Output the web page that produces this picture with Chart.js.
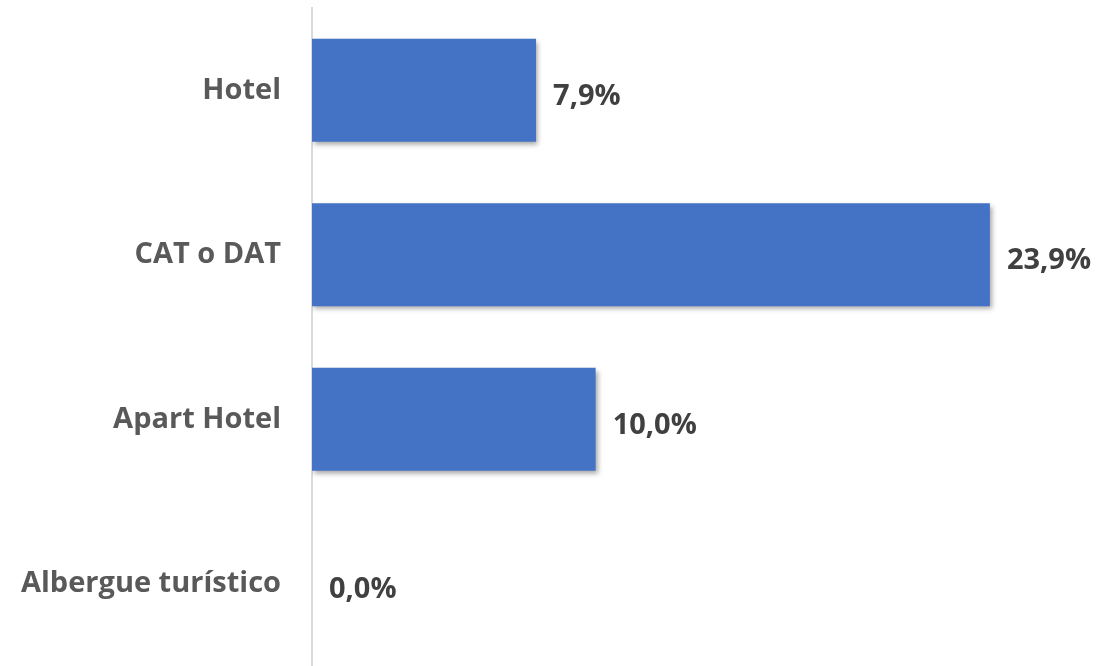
<!DOCTYPE html>
<html>
<head>
<meta charset="utf-8">
<script src="https://cdn.jsdelivr.net/npm/chart.js@4/dist/chart.umd.min.js"></script>
<style>
  html, body { margin: 0; padding: 0; background: #fff; }
  #wrap { width: 1099px; height: 666px; }
</style>
</head>
<body>
<div id="wrap"><canvas id="chart"></canvas></div>
<script>
const categories = ['Hotel', 'CAT o DAT', 'Apart Hotel', 'Albergue turístico'];
const shares = [7.9, 23.9, 10.0, 0.0];

const fmt = v => v.toFixed(1).replace('.', ',') + '%';

// bar shadow like the office original
const shadow = {
    id: 'shadow',
    beforeDatasetsDraw(chart) {
        const ctx = chart.ctx;
        ctx.save();
        ctx.shadowColor = 'rgba(0,0,0,0.35)';
        ctx.shadowBlur = 5;
        ctx.shadowOffsetX = 2;
        ctx.shadowOffsetY = 3;
    },
    afterDatasetsDraw(chart) {
        chart.ctx.restore();
    }
};

const valueLabels = {
    id: 'valueLabels',
    afterDatasetsDraw(chart) {
        const ctx = chart.ctx;
        const meta = chart.getDatasetMeta(0);
        ctx.save();
        ctx.font = 'bold 29px "Open Sans"';
        ctx.fillStyle = '#404040';
        ctx.textAlign = 'left';
        ctx.textBaseline = 'middle';
        meta.data.forEach((bar, i) => {
            ctx.fillText(fmt(shares[i]), bar.x + 17, bar.y + 6);
        });
        ctx.restore();
    }
};

new Chart(document.getElementById('chart'), {
    type: 'bar',
    data: {
        labels: categories,
        datasets: [{
            data: shares,
            backgroundColor: '#4472C4',
            borderWidth: 0,
            categoryPercentage: 0.625,
            barPercentage: 1
        }]
    },
    options: {
        indexAxis: 'y',
        responsive: true,
        maintainAspectRatio: false,
        animation: false,
        layout: { padding: { top: 8, right: 7, bottom: 0, left: 0 } },
        plugins: {
            legend: { display: false },
            tooltip: { enabled: false }
        },
        scales: {
            x: {
                min: 0,
                max: 27.5,
                display: false
            },
            y: {
                grid: { display: false, drawTicks: false },
                border: { color: '#d9d9d9', width: 2 },
                ticks: {
                    color: '#595959',
                    padding: 31,
                    font: { family: 'Open Sans', size: 29, weight: 'bold' }
                },
                afterFit(scale) {
                    scale.width = 312;
                    scale.paddingTop = 0;
                    scale.paddingBottom = 0;
                }
            }
        }
    },
    plugins: [shadow, valueLabels]
});
</script>
</body>
</html>
